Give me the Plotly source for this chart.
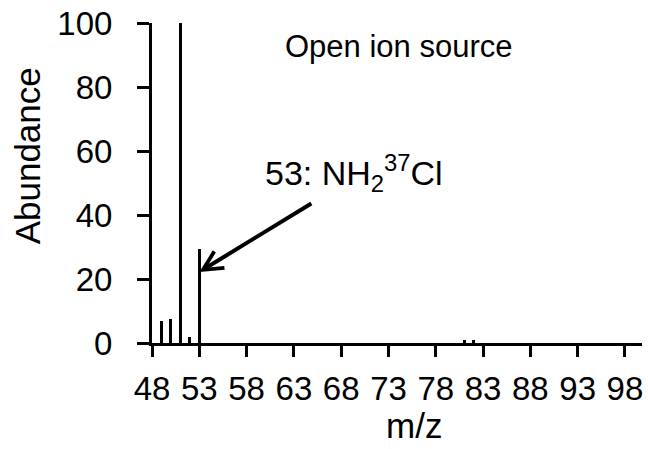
import plotly.graph_objects as go

# Mass spectrum peaks (m/z, relative abundance)
mz = [49, 50, 51, 52, 53, 81, 82]
abundance = [7.0, 7.4, 100.0, 1.8, 29.5, 1.0, 1.0]

x_ticks = [48, 53, 58, 63, 68, 73, 78, 83, 88, 93, 98]
y_ticks = [0, 20, 40, 60, 80, 100]

# Annotated peak and the arrow tail position (data units)
peak_label = "53: NH<sub>2</sub><sup>37</sup>Cl"
peak_x, peak_y = 53, 22.2
tail_x, tail_y = 65.0, 43.9

FONT = "Liberation Sans, Arial, sans-serif"

fig = go.Figure()
fig.add_trace(go.Bar(
    x=mz, y=abundance, width=0.32,
    marker=dict(color="black", line=dict(width=0)),
    showlegend=False, hoverinfo="x+y",
))

fig.update_layout(
    width=648, height=449,
    margin=dict(l=152, r=5, t=21, b=106),
    paper_bgcolor="white", plot_bgcolor="white",
    font=dict(family=FONT, color="black"),
    bargap=0,
)

fig.update_xaxes(
    range=[48, 99.8], tickvals=x_ticks, ticktext=[str(v) for v in x_ticks],
    showline=True, linecolor="black", linewidth=3,
    ticks="outside", ticklen=11, tickwidth=3, tickcolor="black",
    showgrid=False, zeroline=False, ticklabelstandoff=3,
    tickfont=dict(size=33, family=FONT, color="black"),
)
fig.update_yaxes(
    range=[0, 100], tickvals=y_ticks,
    showline=True, linecolor="black", linewidth=3,
    ticks="outside", ticklen=12, tickwidth=3, tickcolor="black",
    showgrid=False, zeroline=False, ticklabelstandoff=18,
    tickfont=dict(size=33, family=FONT, color="black"),
)

fig.add_annotation(
    text="Abundance", textangle=-90, showarrow=False,
    xref="paper", yref="paper", x=-0.254, y=0.585,
    xanchor="center", yanchor="middle",
    font=dict(size=35, family=FONT, color="black"),
)
fig.add_annotation(
    text="m/z", showarrow=False,
    xref="paper", yref="paper", x=0.534, y=-0.258,
    xanchor="center", yanchor="middle",
    font=dict(size=35, family=FONT, color="black"),
)
fig.add_annotation(
    text="Open ion source", showarrow=False,
    xref="paper", yref="paper", x=0.503, y=0.925,
    xanchor="center", yanchor="middle",
    font=dict(size=31, family=FONT, color="black"),
)
fig.add_annotation(
    text=peak_label, showarrow=False,
    xref="paper", yref="paper", x=0.412, y=0.53,
    xanchor="center", yanchor="middle",
    font=dict(size=34, family=FONT, color="black"),
)
fig.add_annotation(
    text="", showarrow=True,
    x=peak_x, y=peak_y, xref="x", yref="y",
    ax=tail_x, ay=tail_y, axref="x", ayref="y",
    arrowhead=5, arrowsize=0.95, arrowwidth=4, arrowcolor="black",
    standoff=0, startstandoff=0,
)

fig.write_html("out.html")
